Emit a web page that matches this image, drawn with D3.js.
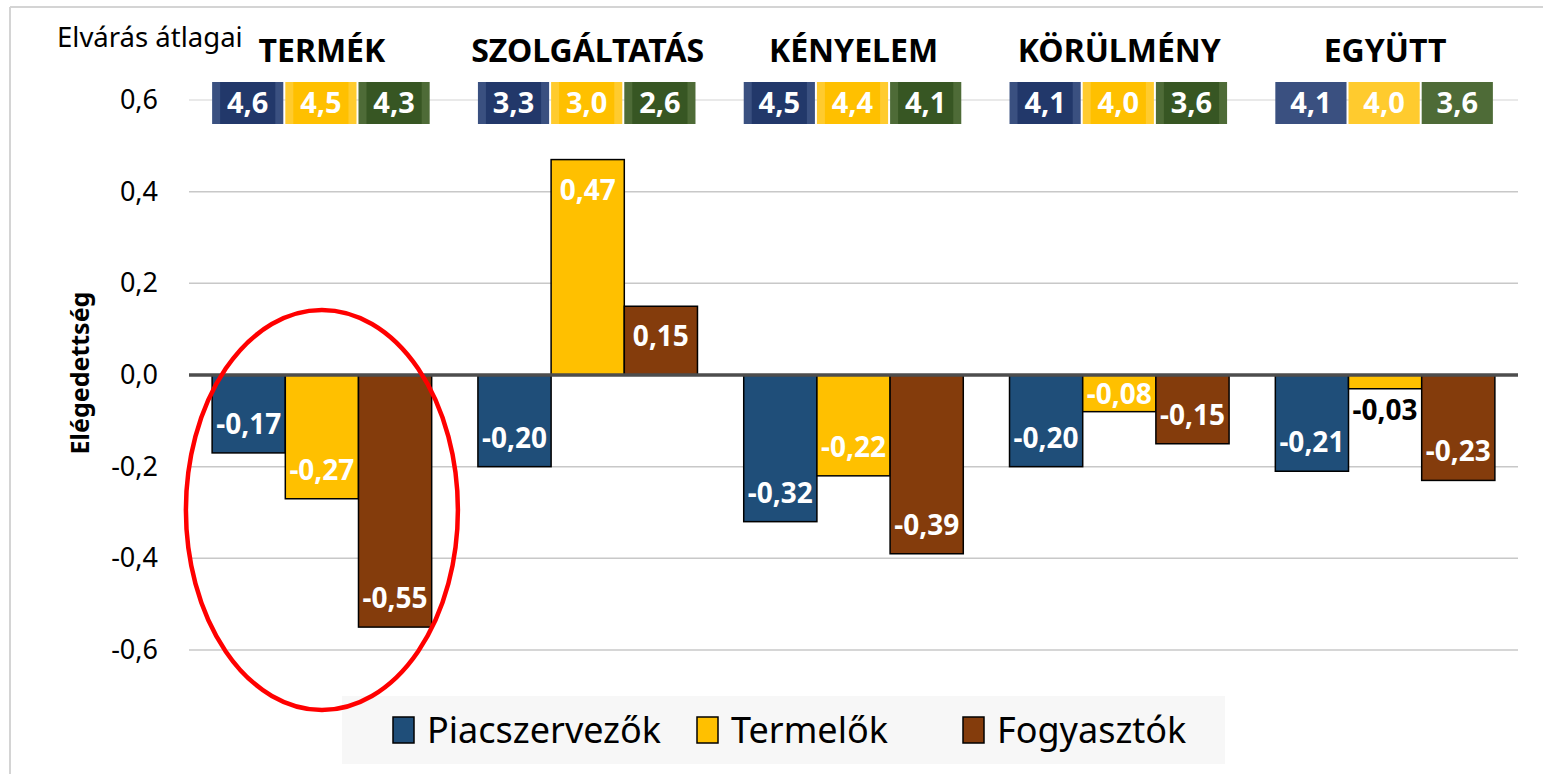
<!DOCTYPE html>
<html>
<head>
<meta charset="utf-8">
<script src="https://cdn.jsdelivr.net/npm/d3@7"></script>
<style>
  body { margin: 0; background: #fff; }
  svg text { font-family: "Noto Sans", "Open Sans", sans-serif; }
</style>
</head>
<body>
<div id="chart"></div>
<script>
// categories and series
let categories = ["TERMÉK", "SZOLGÁLTATÁS", "KÉNYELEM", "KÖRÜLMÉNY", "EGYÜTT"];
let series = ["Piacszervezők", "Termelők", "Fogyasztók"];

// satisfaction values (bars)
let piacszervezok = [-0.17, -0.20, -0.32, -0.20, -0.21];
let termelok = [-0.27, 0.47, -0.22, -0.08, -0.03];
let fogyasztok = [-0.55, 0.15, -0.39, -0.15, -0.23];

// expectation averages (boxes on top)
let elvaras_piac = [4.6, 3.3, 4.5, 4.1, 4.1];
let elvaras_term = [4.5, 3.0, 4.4, 4.0, 4.0];
let elvaras_fogy = [4.3, 2.6, 4.1, 3.6, 3.6];

let y_ticks = [-0.6, -0.4, -0.2, 0.0, 0.2, 0.4, 0.6];

let bar_colors = ["#1F4E79", "#FFC000", "#843C0C"];
let box_colors = ["#22386A", "#FFC000", "#375623"];
let box_edge = ["#3A5080", "#FFCB2E", "#4E6B37"];

let width = 1543, height = 774;
let margin = {left: 189, right: 25, top: 100, bottom: 124};

let svg = d3.select("#chart").append("svg")
    .attr("width", width)
    .attr("height", height);

// frame
svg.append("line").attr("x1", 10).attr("x2", width).attr("y1", 7).attr("y2", 7)
    .attr("stroke", "#D4D4D4").attr("stroke-width", 2);
svg.append("line").attr("x1", 10).attr("x2", 10).attr("y1", 7).attr("y2", height)
    .attr("stroke", "#D4D4D4").attr("stroke-width", 2);

let locale = d3.formatLocale({decimal: ",", thousands: " ", grouping: [3], currency: ["", ""], minus: "-"});
let fmt1 = locale.format(".1f");
let fmt2 = locale.format(".2f");

let x0 = d3.scaleBand().domain(categories).range([margin.left, width - margin.right]);
let pad = x0.step() * 0.087;
let x1 = d3.scaleBand().domain(series).range([pad, x0.step() - pad]);
let y = d3.scaleLinear().domain([-0.6, 0.6]).range([650, 100]);

// gridlines
svg.append("g").selectAll("line")
    .data(y_ticks.filter(function (d) { return d !== 0; }))
    .enter().append("line")
    .attr("x1", x0.range()[0]).attr("x2", x0.range()[1])
    .attr("y1", function (d) { return y(d); }).attr("y2", function (d) { return y(d); })
    .attr("stroke", function (d) { return d === 0.6 ? "#E2E2E2" : "#C8C8C8"; })
    .attr("stroke-width", 1.5);

// y axis labels
let yAxis = d3.axisLeft(y).tickValues(y_ticks).tickFormat(fmt1).tickSize(0).tickPadding(0);
let gy = svg.append("g").attr("transform", "translate(158,0)").call(yAxis);
gy.select(".domain").remove();
gy.selectAll("text")
    .style("font-size", "27px")
    .style("font-family", "'Noto Sans', 'Open Sans', sans-serif")
    .attr("fill", "#000");

// axis title
svg.append("text")
    .attr("transform", "translate(89,373) rotate(-90)")
    .attr("text-anchor", "middle")
    .style("font-size", "25px").style("font-weight", "bold")
    .text("Elégedettség");

svg.append("text")
    .attr("x", 57).attr("y", 47)
    .style("font-size", "27.5px")
    .text("Elvárás átlagai");

// bar data
let bar_data = [];
let box_data = [];
categories.forEach(function (c, i) {
    [piacszervezok, termelok, fogyasztok].forEach(function (arr, j) {
        bar_data.push({cat: c, ser: series[j], value: arr[i], color: bar_colors[j], idx: j});
    });
    [elvaras_piac, elvaras_term, elvaras_fogy].forEach(function (arr, j) {
        box_data.push({cat: c, ser: series[j], value: arr[i], idx: j, last: i === categories.length - 1});
    });
});

// bars
svg.append("g").selectAll("rect")
    .data(bar_data)
    .enter().append("rect")
    .attr("x", function (d) { return x0(d.cat) + x1(d.ser); })
    .attr("width", x1.bandwidth())
    .attr("y", function (d) { return y(Math.max(0, d.value)); })
    .attr("height", function (d) { return Math.abs(y(d.value) - y(0)); })
    .attr("fill", function (d) { return d.color; })
    .attr("stroke", "#000")
    .attr("stroke-width", 1.5);

// zero line
svg.append("line")
    .attr("x1", x0.range()[0]).attr("x2", x0.range()[1])
    .attr("y1", y(0)).attr("y2", y(0))
    .attr("stroke", "#4D4D4D").attr("stroke-width", 3.5);

// bar labels
svg.append("g").selectAll("text")
    .data(bar_data)
    .enter().append("text")
    .attr("x", function (d) { return x0(d.cat) + x1(d.ser) + x1.bandwidth() / 2; })
    .attr("y", function (d) {
        let h = Math.abs(y(d.value) - y(0));
        if (h < 20) return y(d.value) + 21;
        if (d.value < 0) return Math.max(y(d.value) - 29, y(0) + 19);
        return Math.min(y(d.value) + 30, y(0) - 19);
    })
    .attr("dy", "0.36em")
    .attr("text-anchor", "middle")
    .style("font-size", "28px").style("font-weight", "bold")
    .attr("fill", function (d) { return Math.abs(y(d.value) - y(0)) < 20 ? "#000" : "#fff"; })
    .text(function (d) { return fmt2(d.value); });

// category titles
svg.append("g").selectAll("text")
    .data(categories)
    .enter().append("text")
    .attr("x", function (d) { return x0(d) + x0.step() / 2; })
    .attr("y", 62)
    .attr("text-anchor", "middle")
    .style("font-size", "32px").style("font-weight", "bold")
    .text(function (d) { return d; });

// expectation boxes
let box_top = 82, box_h = 42;
let boxes = svg.append("g").selectAll("g")
    .data(box_data)
    .enter().append("g")
    .attr("transform", function (d) { return "translate(" + (x0(d.cat) + x1(d.ser)) + "," + box_top + ")"; });

boxes.append("rect")
    .attr("x", 0).attr("width", x1.bandwidth() - 2)
    .attr("height", box_h)
    .attr("fill", function (d) { return box_edge[d.idx]; });

boxes.filter(function (d) { return !d.last; }).append("rect")
    .attr("x", 8).attr("width", x1.bandwidth() - 18)
    .attr("height", box_h)
    .attr("fill", function (d) { return box_colors[d.idx]; });

boxes.append("text")
    .attr("x", (x1.bandwidth() - 2) / 2)
    .attr("y", box_h / 2)
    .attr("dy", "0.36em")
    .attr("text-anchor", "middle")
    .style("font-size", "29px").style("font-weight", "bold")
    .attr("fill", "#fff")
    .text(function (d) { return fmt1(d.value); });

// legend
let legend = svg.append("g");
legend.append("rect")
    .attr("x", 342).attr("y", 696)
    .attr("width", 883).attr("height", 68)
    .attr("fill", "#F7F7F7");

let legend_x = [393, 697, 963];
let items = legend.selectAll(".leg")
    .data(series)
    .enter().append("g")
    .attr("class", "leg")
    .attr("transform", function (d, i) { return "translate(" + legend_x[i] + ",730)"; });

items.append("rect")
    .attr("x", 0).attr("y", -13)
    .attr("width", 21).attr("height", 26)
    .attr("fill", function (d, i) { return bar_colors[i]; })
    .attr("stroke", "#000").attr("stroke-width", 1.5);

items.append("text")
    .attr("x", 34).attr("y", 0)
    .attr("dy", "0.36em")
    .style("font-size", "36px")
    .text(function (d) { return d; });

// red ellipse highlight (drawn over the legend)
svg.append("ellipse")
    .attr("cx", x0(categories[0]) + x0.step() / 2)
    .attr("cy", 510)
    .attr("rx", 136).attr("ry", 200)
    .attr("fill", "none")
    .attr("stroke", "#FF0000")
    .attr("stroke-width", 4.5);
</script>
</body>
</html>
